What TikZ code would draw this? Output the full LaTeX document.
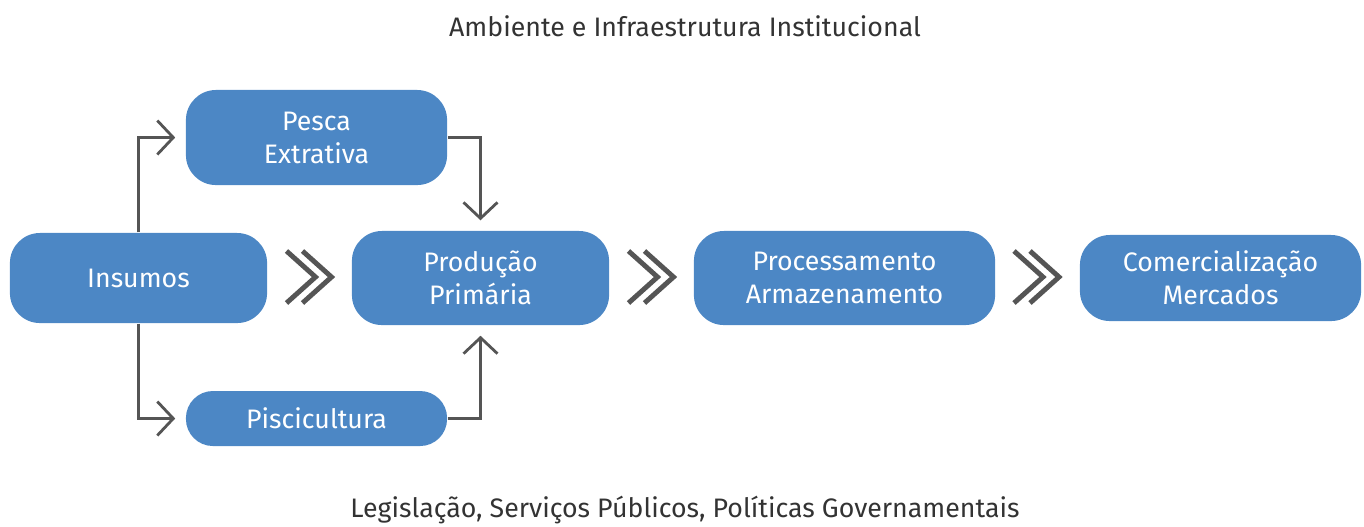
\documentclass[tikz,border=0pt]{standalone}
\usepackage{fontspec}
\setmainfont{Fira Sans}
\usetikzlibrary{arrows.meta}
\definecolor{boxblue}{HTML}{4C87C5}
\definecolor{linegray}{HTML}{555555}
\definecolor{textgray}{HTML}{333333}
\tikzset{
  stage/.style={fill=boxblue,rounded corners=0.3cm,text=white,align=center,
    font=\fontsize{7.6}{9.4}\selectfont,inner sep=0pt},
  conn/.style={draw=linegray,line width=0.8pt,
    -{Straight Barb[length=1.6mm,width=3.4mm,line width=0.8pt]},shorten >=0.1cm},
  chev/.style={draw=linegray,line width=1.4pt,line join=miter},
  caption/.style={text=textgray,font=\fontsize{7.6}{9.4}\selectfont}
}
\newcommand{\dchev}[1]{%
  \draw[chev] (#1-23,251) -- (#1+6,277) -- (#1-23,303);
  \draw[chev] (#1-7,251) -- (#1+22,277) -- (#1-7,303);}
\begin{document}
\begin{tikzpicture}[x=0.01cm,y=-0.01cm]
  \useasboundingbox (0,0) rectangle (1364,526);
  \node[caption] (title) at (685,26) {Ambiente e Infraestrutura Institucional};
  \node[caption] (foot) at (685,510) {Legislação, Serviços Públicos, Políticas Governamentais};
  % boxes
  \node[stage,minimum width=2.57cm,minimum height=0.90cm] (ins) at (138.5,278) {Insumos};
  \node[stage,minimum width=2.61cm,minimum height=0.95cm] (pesca) at (316.5,137.5) {Pesca\\Extrativa};
  \node[stage,minimum width=2.61cm,minimum height=0.55cm,rounded corners=0.27cm] (pisc) at (316.5,418.5) {Piscicultura};
  \node[stage,minimum width=2.57cm,minimum height=0.94cm] (prod) at (480.5,278) {Produção\\Primária};
  \node[stage,minimum width=3.01cm,minimum height=0.94cm] (proc) at (844.5,278) {Processamento\\Armazenamento};
  \node[stage,minimum width=2.81cm,minimum height=0.86cm] (com) at (1220.5,278) {Comercialização\\Mercados};
  % connectors
  \draw[conn] (ins.north) |- (pesca.west);
  \draw[conn] (ins.south) |- (pisc.west);
  \draw[conn] (pesca.east) -| (prod.north);
  \draw[conn] (pisc.east) -| (prod.south);
  % chevrons
  \dchev{309.5}
  \dchev{651.5}
  \dchev{1037}
\end{tikzpicture}
\end{document}
